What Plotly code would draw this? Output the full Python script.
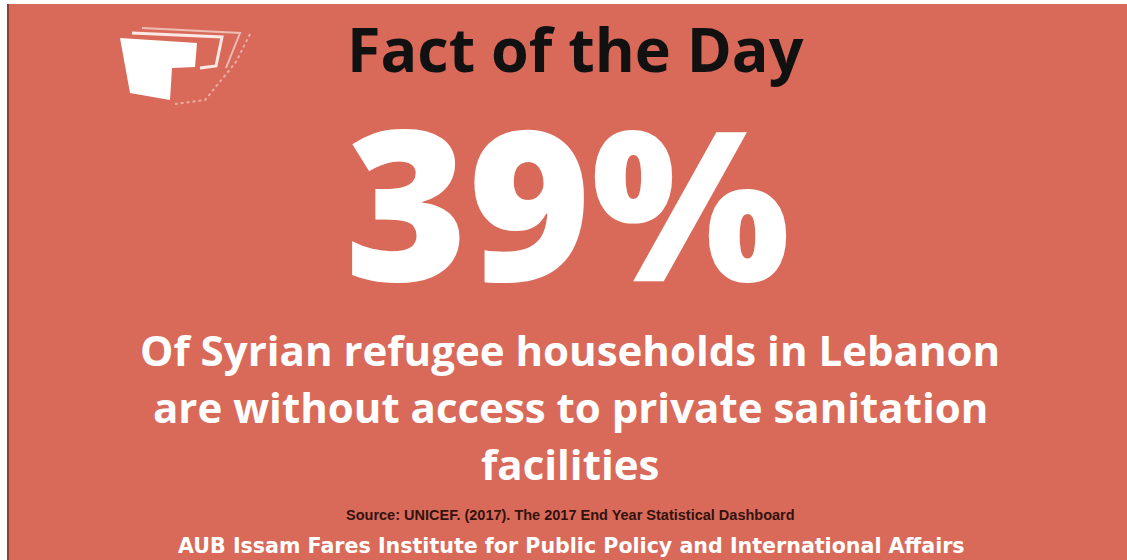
import plotly.graph_objects as go

W, H = 1127, 560
BG = "#D96A5A"

title_text = "Fact of the Day"
stat_value = 39
stat_text = f"{stat_value}%"
body_lines = [
    "Of Syrian refugee households in Lebanon",
    "are without access to private sanitation",
    "facilities",
]
source_text = "Source: UNICEF. (2017). The 2017 End Year Statistical Dashboard"
org_text = "AUB Issam Fares Institute for Public Policy and International Affairs"

fig = go.Figure()

shapes = [
    dict(type="rect", x0=0, x1=W, y0=0, y1=H, fillcolor="white", line_width=0, layer="below"),
    dict(type="rect", x0=9, x1=W + 5, y0=4, y1=H + 5, fillcolor=BG, line_width=0, layer="below"),
    dict(type="rect", x0=7, x1=9, y0=4, y1=H, fillcolor="#8A4035", line_width=0, layer="below"),
    # logo
    dict(type="path", path="M 120 38 L 197 43 L 195 67 L 172 68 L 170 100 L 130 93 Z",
         fillcolor="white", line_width=0),
    dict(type="path", path="M 132 33 L 222 37 L 216 66 L 200 68",
         line=dict(color="rgba(255,255,255,0.85)", width=3)),
    dict(type="path", path="M 142 28 L 240 33 L 226 68",
         line=dict(color="rgba(255,255,255,0.55)", width=2)),
    dict(type="path", path="M 250 34 L 236 62 L 205 100 L 175 104",
         line=dict(color="rgba(255,255,255,0.45)", width=2, dash="dot")),
]

ann = []
ann.append(dict(x=575, y=48, text=title_text, showarrow=False,
                font=dict(family="Open Sans", size=61, color="#111111", weight=700),
                xanchor="center", yanchor="middle"))
ann.append(dict(x=567, y=200, text=stat_text, showarrow=False, height=200,
                font=dict(family="Open Sans", size=210, color="white", weight=800),
                xanchor="center", yanchor="middle"))
for i, line in enumerate(body_lines):
    ann.append(dict(x=570, y=349 + i * 57, text=line, showarrow=False,
                    font=dict(family="Open Sans", size=42, color="white", weight=700),
                    xanchor="center", yanchor="middle"))
ann.append(dict(x=570, y=515, text=source_text, showarrow=False,
                font=dict(family="Liberation Sans", size=14.5, color="#33120D", weight=700),
                xanchor="center", yanchor="middle"))
ann.append(dict(x=571, y=546, text=org_text, showarrow=False,
                font=dict(family="DejaVu Sans", size=20.6, color="white", weight=700),
                xanchor="center", yanchor="middle"))

fig.update_layout(
    width=W, height=H, margin=dict(l=0, r=0, t=0, b=0),
    paper_bgcolor=BG, plot_bgcolor=BG,
    xaxis=dict(range=[0, W], visible=False, fixedrange=True),
    yaxis=dict(range=[H, 0], visible=False, fixedrange=True),
    shapes=shapes, annotations=ann, showlegend=False,
)
fig.write_html(
    "out.html", config={"displayModeBar": False},
    post_script=("document.documentElement.style.margin='0';document.documentElement.style.overflow='hidden';"
                 "document.body.style.margin='0';document.body.style.overflow='hidden';"
                 "document.body.style.background='%s';" % BG),
)
